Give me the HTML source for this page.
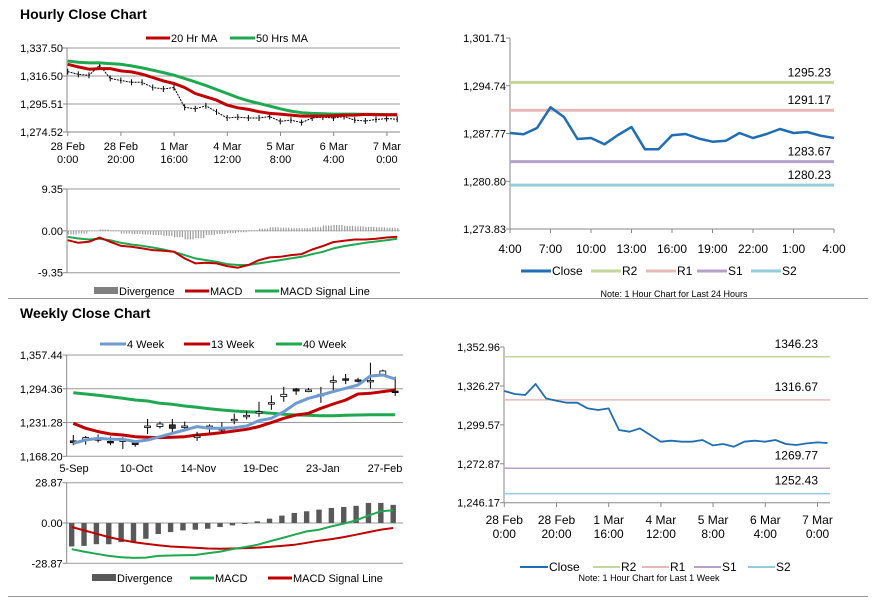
<!DOCTYPE html>
<html><head><meta charset="utf-8"><style>
html,body{margin:0;padding:0;background:#fff;}
svg{display:block;font-family:"Liberation Sans",sans-serif;}
</style></head><body>
<svg id="s" width="873" height="601" viewBox="0 0 873 601" xmlns="http://www.w3.org/2000/svg">
<rect width="873" height="601" fill="#fff"/>
<text x="20" y="19" font-size="14" font-weight="bold" fill="#000">Hourly Close Chart</text>
<text x="20" y="318" font-size="14" font-weight="bold" fill="#000">Weekly Close Chart</text>
<line x1="8" y1="298.5" x2="868" y2="298.5" stroke="#999" stroke-width="1"/>
<line x1="8" y1="596.5" x2="868" y2="596.5" stroke="#999" stroke-width="1"/>
</svg>
<script>
// ===== Data =====
const hourLabels1=["28 Feb","28 Feb","1 Mar","4 Mar","5 Mar","6 Mar","7 Mar"];
const hourLabels2=["0:00","20:00","16:00","12:00","8:00","4:00","0:00"];
const weekClose=[1322.77,1320.72,1320.03,1327.58,1317.74,1316.14,1314.77,1314.77,1310.88,1309.74,1310.88,1296.02,1294.88,1297.16,1292.59,1288.01,1288.70,1288.01,1288.01,1289.16,1285.50,1286.41,1284.58,1288.01,1288.70,1288.01,1289.16,1286.41,1285.73,1286.87,1287.56,1287.10];
const ma20=[1325.30,1323.31,1321.57,1322.07,1322.07,1320.32,1319.58,1317.83,1315.35,1312.86,1310.87,1307.88,1303.40,1300.91,1298.42,1294.68,1292.69,1291.45,1289.71,1288.46,1287.96,1287.22,1286.47,1286.47,1286.47,1286.72,1287.22,1287.22,1287.71,1287.47,1287.47,1287.47];
const ma50=[1327.79,1326.80,1326.30,1326.30,1325.80,1325.30,1324.06,1322.56,1320.82,1319.08,1317.09,1314.60,1312.11,1309.37,1306.38,1303.40,1300.41,1297.92,1295.93,1293.94,1291.95,1290.20,1288.96,1288.46,1288.21,1287.96,1287.96,1287.96,1287.71,1287.71,1287.47,1287.47];
const hMacd=[-2.08,-2.67,-2.45,-1.48,-2.45,-3.34,-3.56,-3.93,-4.30,-4.45,-4.67,-6.16,-7.27,-7.12,-7.27,-7.87,-8.24,-7.64,-6.53,-5.94,-5.79,-5.42,-5.19,-4.16,-3.41,-2.52,-2.23,-1.93,-1.93,-1.78,-1.48,-1.34];
const hSignal=[-1.34,-1.71,-1.93,-1.78,-2.08,-2.67,-3.04,-3.34,-3.71,-4.16,-4.67,-5.42,-6.16,-6.53,-6.90,-7.42,-7.64,-7.64,-7.27,-6.90,-6.53,-6.16,-5.79,-5.19,-4.67,-3.93,-3.41,-3.04,-2.67,-2.37,-2.08,-1.78];
const hDiv=[-0.7,-0.5,0,0.3,0.1,-0.5,-0.6,-0.7,-0.8,-1.0,-1.3,-1.8,-1.5,-0.8,-0.6,-0.4,-0.2,0.1,0.5,0.8,0.7,0.6,0.6,0.8,1.2,1.3,1.1,1.0,0.9,0.8,0.7,0.6];
const hTicks=["1,337.50","1,316.50","1,295.51","1,274.52"];
const dayClose=[1287.84,1287.65,1288.57,1291.59,1290.18,1286.97,1287.11,1286.19,1287.55,1288.72,1285.46,1285.46,1287.50,1287.70,1287.02,1286.58,1286.72,1287.84,1287.11,1287.70,1288.43,1287.84,1287.99,1287.45,1287.11];
const dayLabels=["4:00","7:00","10:00","13:00","16:00","19:00","22:00","1:00","4:00"];
const dayTicks=["1,301.71","1,294.74","1,287.77","1,280.80","1,273.83"];
const dayLevels=[1295.23,1291.17,1283.67,1280.23];
const wkLevels=[1346.23,1316.67,1269.77,1252.43];
const wkTicksR=["1,352.96","1,326.27","1,299.57","1,272.87","1,246.17"];
const wOpen=[1197,1200,1201,1196,1198,1193,1224,1224,1227,1222,1203,1223,1220,1237,1243,1251,1268,1280,1294,1289,1284,1309,1313,1311,1310,1321,1290];
const wClose=[1193.7,1203.1,1198.7,1195.6,1198.7,1191.2,1224.8,1228.6,1220.5,1224.8,1206.2,1224.8,1217.4,1237.3,1244.8,1251.6,1268.4,1284.0,1290.2,1292.1,1282.7,1309.5,1310.7,1308.3,1310.0,1327.6,1289.0];
const wHigh=[1208,1206,1209,1205,1204,1196,1238,1233,1238,1233,1214,1228,1232,1248,1253,1270,1282,1298,1296,1296,1298,1319,1322,1315,1343,1330,1317];
const wLow=[1189,1190,1194,1189,1182,1186,1210,1220,1210,1215,1197,1210,1213,1228,1237,1242,1255,1270,1283,1288,1268,1289,1303,1306,1295,1322,1281];
const w4=[1192.5,1198.7,1201.8,1199.9,1199.9,1195.6,1198.7,1204.9,1211.1,1217.4,1223.6,1220.5,1220.5,1221.7,1224.8,1234.8,1239.2,1251.6,1267.2,1276.5,1282.7,1289.0,1295.2,1301.4,1318.2,1320.1,1312.6];
const w13=[1229.8,1220.5,1214.3,1209.9,1208.0,1204.9,1203.7,1203.1,1203.7,1204.9,1208.0,1209.9,1212.4,1215.5,1218.6,1223.6,1231.1,1239.2,1245.4,1248.5,1257.8,1265.9,1273.4,1284.6,1285.8,1289.0,1292.1];
const w40=[1287.1,1284.6,1282.1,1279.6,1276.5,1273.4,1271.5,1267.2,1265.3,1262.2,1259.7,1257.2,1254.7,1252.8,1251.6,1250.4,1248.5,1246.6,1245.4,1244.7,1244.1,1244.1,1244.7,1245.4,1246.0,1246.0,1246.0];
const wDiv=[-16.8,-16.4,-15.2,-15.2,-13.7,-14.0,-11.3,-7.9,-6.5,-5.3,-4.8,-4.1,-2.9,-1.7,-0.7,1.2,3.1,5.3,7.2,8.4,9.6,10.8,11.5,12.3,14.4,14.4,13.0];
const wMacd=[-18.8,-20.5,-22.1,-23.6,-24.5,-25.0,-24.8,-23.6,-23.3,-23.1,-22.9,-21.7,-20.5,-18.8,-17.3,-15.6,-13.2,-10.8,-8.4,-6.0,-4.8,-2.4,-0.5,1.9,5.3,8.4,9.1];
const wSignal=[-2.9,-5.3,-7.7,-10.1,-12.0,-13.7,-14.9,-15.9,-16.8,-17.3,-17.8,-18.3,-18.5,-18.3,-18.0,-17.6,-17.1,-16.4,-15.6,-14.2,-12.7,-11.5,-10.1,-8.4,-6.5,-4.8,-3.6];
const wLabels=["5-Sep","10-Oct","14-Nov","19-Dec","23-Jan","27-Feb"];
const wTicks=["1,357.44","1,294.36","1,231.28","1,168.20"];
const mTicksH=["9.35","0.00","-9.35"];
const mTicksW=["28.87","0.00","-28.87"];

// ===== helpers =====
const S=document.getElementById('s');const NS="http://www.w3.org/2000/svg";
function mk(t,a,p){const e=document.createElementNS(NS,t);for(const k in a)e.setAttribute(k,a[k]);(p||S).appendChild(e);return e;}
function txt(x,y,s,anchor,size,fill){const e=mk('text',{x:x,y:y,'font-size':size||11,'text-anchor':anchor||'start',fill:fill||'#000'});e.textContent=s;return e;}
function lin(scale){return v=>scale.r0+(v-scale.d0)/(scale.d1-scale.d0)*(scale.r1-scale.r0);}
function poly(xs,ys,stroke,w){const d=xs.map((x,i)=>(i?'L':'M')+x.toFixed(1)+','+ys[i].toFixed(1)).join('');return mk('path',{d:d,fill:'none',stroke:stroke,'stroke-width':w,'stroke-linejoin':'round'});}
function frame(x0,x1,y0,y1,ticks,grid){
  const n=ticks.length;
  for(let i=0;i<n;i++){const y=y0+(y1-y0)*i/(n-1);
    if(grid){const g=mk('line',{x1:x0,y1:y,x2:x1,y2:y,stroke:'#9a9a9a','stroke-width':1});}
    mk('line',{x1:x0-4,y1:y,x2:x0,y2:y,stroke:'#888'});
    const t=txt(x0-4,y+4,ticks[i],'end',11);}
  const ax=mk('line',{x1:x0,y1:y0,x2:x0,y2:y1,stroke:'#888'});
}
function legend(items,y,fs){items.forEach(it=>{
  const g=mk('g',{});
  if(it.bar)mk('rect',{x:it.x,y:y-4,width:it.w,height:7,fill:it.c},g);else mk('line',{x1:it.x,y1:y,x2:it.x+it.w,y2:y,stroke:it.c,'stroke-width':it.sw||3},g);
  const t=txt(it.x+it.w+1,y+4,it.t,'start',fs||11);g.appendChild(t);});}

// ===== Hourly (top-left) =====
(function(){
  const X=k=>67.7+k*10.63;
  const y=lin({d0:1274.52,d1:1337.5,r0:132,r1:48});
  frame(67,400,48,132,hTicks,true);
  mk('line',{x1:67,y1:132,x2:400,y2:132,stroke:'#888'});
  for(let i=0;i<7;i++){const x=67.7+i*53.2;mk('line',{x1:x,y1:132,x2:x,y2:136,stroke:'#888'});
    txt(x,150,hourLabels1[i],'middle',11);txt(x,163,hourLabels2[i],'middle',11);}
  const xs=weekClose.map((v,k)=>X(k));
  const c=poly(xs,weekClose.map(v=>y(v)+4),'#000',1);c.setAttribute('stroke-dasharray','2 1');
  weekClose.forEach((v,k)=>{const t=mk('line',{x1:X(k),y1:y(v)+1,x2:X(k),y2:y(v)+7,stroke:'#000','stroke-width':1});});
  const g=poly(xs,ma50.map(y),'#1fa84f',3);
  const r=poly(xs,ma20.map(y),'#c00000',3);
  legend([{x:146,w:24,c:'#c00000',t:'20 Hr MA'},{x:230,w:25,c:'#1fa84f',t:'50 Hrs MA'}],38,11);
  // MACD
  const ym=lin({d0:-9.35,d1:9.35,r0:272.7,r1:189});
  frame(67,400,189,272.7,mTicksH,false);
  mk('line',{x1:67,y1:189,x2:400,y2:189,stroke:'#9a9a9a'});mk('line',{x1:67,y1:272.7,x2:400,y2:272.7,stroke:'#9a9a9a'});
  mk('line',{x1:67,y1:230.8,x2:400,y2:230.8,stroke:'#bbb'});
  hDiv.forEach((v,k)=>{for(let j=0;j<4;j++){const x=X(k)+j*2.6;if(x>399)break;const b=mk('rect',{x:x,y:Math.min(ym(v),ym(0)),width:1.2,height:Math.abs(ym(v)-ym(0))+0.5,fill:'#9a9a9a'});}});
  const s=poly(xs,hSignal.map(ym),'#1fa84f',2);
  const m=poly(xs,hMacd.map(ym),'#c00000',2);
  legend([{x:94,w:24,c:'#808080',t:'Divergence',bar:1},{x:185,w:24,c:'#c00000',t:'MACD'},{x:255,w:24,c:'#1fa84f',t:'MACD Signal Line'}],291,11);
})();

// ===== Day (top-right) =====
(function(){
  const X=i=>510+i*13.5;
  const y=lin({d0:1273.83,d1:1301.71,r0:229,r1:38});
  frame(510,834,38,229,dayTicks,false);
  mk('line',{x1:510,y1:229,x2:834,y2:229,stroke:'#888'});
  for(let i=0;i<9;i++){const x=510+i*40.5;mk('line',{x1:x,y1:229,x2:x,y2:233,stroke:'#888'});const t=txt(x,253,dayLabels[i],'middle',12);}
  const cols=['#c3d69b','#e6b9b8','#b3a2c7','#93cddd'];const names=['r2','r1','s1','s2'];
  dayLevels.forEach((v,i)=>{const l=mk('line',{x1:510,y1:y(v),x2:834,y2:y(v),stroke:cols[i],'stroke-width':3});
    const t=txt(831,y(v)-6,v.toFixed(2),'end',12);});
  const c=poly(dayClose.map((v,i)=>X(i)),dayClose.map(y),'#1f6db3',2.5);
  legend([{x:521,w:30,c:'#1f6db3',t:'Close'},{x:591,w:30,c:'#c3d69b',t:'R2'},{x:646,w:30,c:'#e6b9b8',t:'R1'},{x:697,w:30,c:'#b3a2c7',t:'S1'},{x:751,w:30,c:'#93cddd',t:'S2'}],271,12);
  const n=txt(674,297,'Note: 1 Hour Chart for Last 24 Hours','middle',9);
})();

// ===== Weekly (bottom-left) =====
(function(){
  const X=i=>73.3+i*12.38;
  const y=lin({d0:1168.2,d1:1357.44,r0:456.3,r1:355});
  frame(66.7,403,355,456.3,wTicks,true);
  for(let i=0;i<6;i++){const x=74+i*62.2;const t=txt(x,472,wLabels[i],'middle',11);}
  const xs=w4.map((v,i)=>X(i));
  const g=poly(xs,w40.map(y),'#1fa84f',3);
  const r=poly(xs,w13.map(y),'#c00000',3);
  wClose.forEach((c,i)=>{const x=X(i);const gg=mk('g',{});
    mk('line',{x1:x,y1:y(wHigh[i]),x2:x,y2:y(wLow[i]),stroke:'#000','stroke-width':1},gg);
    const t=Math.min(y(wOpen[i]),y(c)),h=Math.max(1.5,Math.abs(y(wOpen[i])-y(c)));
    mk('rect',{x:x-3,y:t,width:6,height:h,fill:c>=wOpen[i]?'#fff':'#333',stroke:'#000','stroke-width':0.8},gg);});
  const b=poly(xs,w4.map(y),'#6f9bd1',3);
  legend([{x:100,w:26,c:'#6f9bd1',t:'4 Week'},{x:184,w:26,c:'#c00000',t:'13 Week'},{x:276,w:26,c:'#1fa84f',t:'40 Week'}],344,11);
  // MACD
  const ym=lin({d0:-28.87,d1:28.87,r0:563.3,r1:482.7});
  frame(66.7,403,482.7,563.3,mTicksW,true);
  wDiv.forEach((v,i)=>{const x=(215+37.1*i)/3;const bb=mk('rect',{x:x-2.7,y:Math.min(ym(v),ym(0)),width:5.4,height:Math.abs(ym(v)-ym(0)),fill:'#595959'});});
  const mx=wMacd.map((v,i)=>(215+37.1*i)/3);
  const s=poly(mx,wSignal.map(ym),'#c00000',2);
  const m=poly(mx,wMacd.map(ym),'#1fa84f',2);
  legend([{x:92,w:24,c:'#595959',t:'Divergence',bar:1},{x:190,w:24,c:'#1fa84f',t:'MACD'},{x:268,w:24,c:'#c00000',t:'MACD Signal Line'}],578,11);
})();

// ===== Week hourly (bottom-right) =====
(function(){
  const X=k=>504.3+k*10.43;
  const y=lin({d0:1246.17,d1:1352.96,r0:502.7,r1:347});
  frame(504,830,347,502.7,wkTicksR,false);
  mk('line',{x1:504,y1:502.7,x2:830,y2:502.7,stroke:'#888'});
  for(let i=0;i<7;i++){const x=504.3+i*52.2;mk('line',{x1:x,y1:502.7,x2:x,y2:507,stroke:'#888'});
    txt(x,524,hourLabels1[i],'middle',12);txt(x,538,hourLabels2[i],'middle',12);}
  const cols=['#c3d69b','#e6b9b8','#b3a2c7','#93cddd'];const names=['r2','r1','s1','s2'];
  wkLevels.forEach((v,i)=>{const l=mk('line',{x1:504,y1:y(v),x2:830,y2:y(v),stroke:cols[i],'stroke-width':1.5});
    const t=txt(818,y(v)-9,v.toFixed(2),'end',12);});
  const c=poly(weekClose.map((v,k)=>X(k)),weekClose.map(y),'#1f6db3',1.8);
  legend([{x:520,w:28,c:'#1f6db3',t:'Close',sw:2},{x:593,w:27,c:'#c3d69b',t:'R2',sw:2},{x:642,w:27,c:'#e6b9b8',t:'R1',sw:2},{x:694,w:27,c:'#b3a2c7',t:'S1',sw:2},{x:748,w:27,c:'#93cddd',t:'S2',sw:2}],567,12);
  const n=txt(649,581,'Note: 1 Hour Chart for Last 1 Week','middle',9);
})();
</script>
</body></html>
